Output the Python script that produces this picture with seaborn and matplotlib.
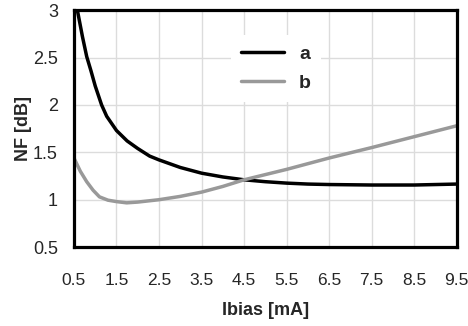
import numpy as np
import pandas as pd
import seaborn as sns
import matplotlib.pyplot as plt

# curve a (black)
ibias_a = [0.5, 0.58, 0.7, 0.8, 0.9, 1.0, 1.15, 1.27, 1.5, 1.75, 2.0, 2.28, 2.5, 3.0, 3.5, 4.0, 4.5, 5.0, 5.5, 6.0, 6.5, 7.5, 8.5, 9.5]
nf_a = [3.18, 3.0, 2.72, 2.51, 2.36, 2.2, 2.0, 1.88, 1.73, 1.62, 1.54, 1.46, 1.42, 1.34, 1.28, 1.24, 1.21, 1.19, 1.175, 1.165, 1.16, 1.155, 1.155, 1.165]

# curve b (gray)
ibias_b = [0.5, 0.65, 0.8, 0.95, 1.1, 1.3, 1.5, 1.74, 2.0, 2.5, 3.0, 3.5, 4.0, 4.5, 5.5, 6.5, 7.5, 8.5, 9.5]
nf_b = [1.44, 1.3, 1.19, 1.1, 1.03, 0.995, 0.98, 0.967, 0.975, 1.0, 1.035, 1.08, 1.14, 1.21, 1.32, 1.44, 1.55, 1.665, 1.78]

xticks = [0.5, 1.5, 2.5, 3.5, 4.5, 5.5, 6.5, 7.5, 8.5, 9.5]
yticks = [0.5, 1, 1.5, 2, 2.5, 3]
yticklabels = ["0.5", "1", "1.5", "2", "2.5", "3"]

df = pd.concat([
    pd.DataFrame({"Ibias": ibias_a, "NF": nf_a, "curve": "a"}),
    pd.DataFrame({"Ibias": ibias_b, "NF": nf_b, "curve": "b"}),
])

sns.set_style("whitegrid", {"grid.color": "#dcdcdc", "axes.edgecolor": "black"})
plt.rcParams["font.family"] = ["Liberation Sans", "DejaVu Sans"]

fig = plt.figure(figsize=(4.68, 3.26), dpi=100)
ax = fig.add_axes([0.158, 0.242, 0.818, 0.727])
sns.lineplot(data=df, x="Ibias", y="NF", hue="curve", sort=False,
             palette={"a": "black", "b": "#999999"}, linewidth=2.5, ax=ax)

ax.set_xlim(0.5, 9.5)
ax.set_ylim(0.5, 3)
ax.set_xticks(xticks)
ax.set_xticklabels([str(t) for t in xticks], fontsize=12.5)
ax.set_yticks(yticks)
ax.set_yticklabels(yticklabels, fontsize=13)
ax.grid(True, color="#dcdcdc", linewidth=1)
for s in ax.spines.values():
    s.set_linewidth(2.3)
    s.set_color("black")
ax.tick_params(axis="both", length=3.5, width=1, color="#cccccc")
ax.tick_params(axis="y", pad=8)
ax.tick_params(axis="x", pad=15)
ax.set_xlabel("Ibias [mA]", fontsize=13, fontweight="bold", labelpad=10)
ax.set_ylabel("NF [dB]", fontsize=13, fontweight="bold", labelpad=1)

leg = ax.legend(loc="upper left", bbox_to_anchor=(0.385, 0.935), frameon=True,
                handlelength=2.2, labelspacing=0.6, borderpad=0.5, handletextpad=0.8,
                prop={"weight": "bold", "size": 14})
leg.get_frame().set_linewidth(0)
leg.get_frame().set_facecolor("white")
leg.get_frame().set_alpha(1)

plt.savefig("out.png", dpi=100)
